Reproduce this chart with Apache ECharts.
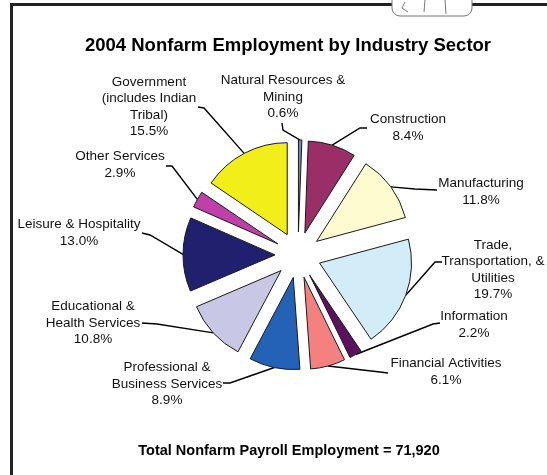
<!DOCTYPE html>
<html>
<head>
<meta charset="utf-8">
<script src="https://cdn.jsdelivr.net/npm/echarts@6/dist/echarts.min.js"></script>
<style>
html,body{margin:0;padding:0;background:#fff;}
#chart{width:547px;height:475px;}
</style>
</head>
<body>
<div id="chart"></div>
<script>
const categories = [
  'Natural Resources &\nMining',
  'Construction',
  'Manufacturing',
  'Trade,\nTransportation, &\nUtilities',
  'Information',
  'Financial Activities',
  'Professional &\nBusiness Services',
  'Educational &\nHealth Services',
  'Leisure & Hospitality',
  'Other Services',
  'Government\n(includes Indian\nTribal)'
];
const shares = [0.6, 8.4, 11.8, 19.7, 2.2, 6.1, 8.9, 10.8, 13.0, 2.9, 15.5];
const colors = ['#7a86a8', '#9a2f68', '#fffbd0', '#d2ecf8', '#5c1060', '#f58080', '#2462b8', '#c8c8e6', '#20206e', '#c040aa', '#f2ee1a'];
const title = '2004 Nonfarm Employment by Industry Sector';
const footer = 'Total Nonfarm Payroll Employment = 71,920';

// label layout (positions only): block centre, leader bend point, leader end at text
const labelPos = [
  [283, 97], [408, 128], [481, 192], [493, 270], [474, 325], [446, 372],
  [167, 384], [93, 323], [79, 233], [120, 165], [149, 107]
];
const leaderBend = [
  [283, 130], [360, 128], [415, 189], [435, 262], [433, 324], [380, 372],
  [230, 383], [157, 324], [150, 235], [172, 166], [204, 108]
];
const leaderEnd = [
  [282, 123], [367, 128], [437, 190], [442, 262], [440, 323], [388, 373],
  [223, 383], [142, 323], [142, 233], [166, 166], [198, 107]
];
const EXPLODE = 23;

const chart = echarts.init(document.getElementById('chart'), null, {renderer: 'canvas'});
chart.setOption({
  animation: false,
  backgroundColor: '#fff',
  title: [{
    text: title, left: 283, top: 31, textAlign: 'center',
    textStyle: {fontFamily: 'Liberation Sans, Arial', fontWeight: 'bold', fontSize: 18.5, color: '#000'}
  }, {
    text: footer, left: 284, top: 438, textAlign: 'center',
    textStyle: {fontFamily: 'Liberation Sans, Arial', fontWeight: 'bold', fontSize: 14.5, color: '#000'}
  }],
  graphic: [
    {type: 'rect', shape: {x: 10, y: 3, width: 3, height: 480}, style: {fill: '#222'}},
    {type: 'rect', shape: {x: 10, y: 3, width: 540, height: 3}, style: {fill: '#222'}},
    {type: 'rect', shape: {x: 392, y: -12, width: 80, height: 28, r: 8}, style: {fill: '#fff', stroke: '#777', lineWidth: 1}},
    {type: 'polyline', shape: {points: [[405, 2], [402, 8], [408, 12]]}, style: {stroke: '#777', fill: null}},
    {type: 'polyline', shape: {points: [[425, 0], [424, 12]]}, style: {stroke: '#777', fill: null}},
    {type: 'polyline', shape: {points: [[445, 0], [446, 14]]}, style: {stroke: '#777', fill: null}}
  ],
  series: [{
    type: 'pie',
    center: [298, 255],
    radius: 92,
    startAngle: 90,
    clockwise: true,
    selectedMode: 'multiple',
    selectedOffset: EXPLODE,
    avoidLabelOverlap: false,
    emphasis: {disabled: true},
    itemStyle: {borderColor: '#1a1a1a', borderWidth: 1},
    label: {
      show: true,
      position: 'outside',
      fontFamily: 'Liberation Sans, Arial',
      fontSize: 13.5,
      lineHeight: 16.5,
      color: '#111',
      formatter: p => (p.name + '\n' + p.value.toFixed(1) + '%').split('\n').map(l => '{c|' + l + '}').join('\n'),
      rich: {
        c: {align: 'center', fontFamily: 'Liberation Sans, Arial', fontSize: 13.5, lineHeight: 16.5, color: '#111'}
      }
    },
    labelLine: {show: true, length: 10, length2: 10, lineStyle: {color: '#000', width: 1.4}},
    labelLayout: function (params) {
      const i = params.dataIndex;
      const p = labelPos[i];
      const r = params.labelRect;
      const pts = params.labelLinePoints;
      let ux = pts[1][0] - pts[0][0], uy = pts[1][1] - pts[0][1];
      const len = Math.sqrt(ux * ux + uy * uy) || 1;
      ux /= len; uy /= len;
      const ox = EXPLODE * ux, oy = EXPLODE * uy;
      const b = leaderBend[i], e = leaderEnd[i];
      return {
        dx: p[0] - (r.x + r.width / 2) - ox,
        dy: p[1] - (r.y + r.height / 2) - oy,
        labelLinePoints: [pts[0], [b[0] - ox, b[1] - oy], [e[0] - ox, e[1] - oy]]
      };
    },
    data: categories.map((c, i) => ({
      name: c, value: shares[i], selected: true,
      itemStyle: {color: colors[i]}
    }))
  }]
});
</script>
</body>
</html>
